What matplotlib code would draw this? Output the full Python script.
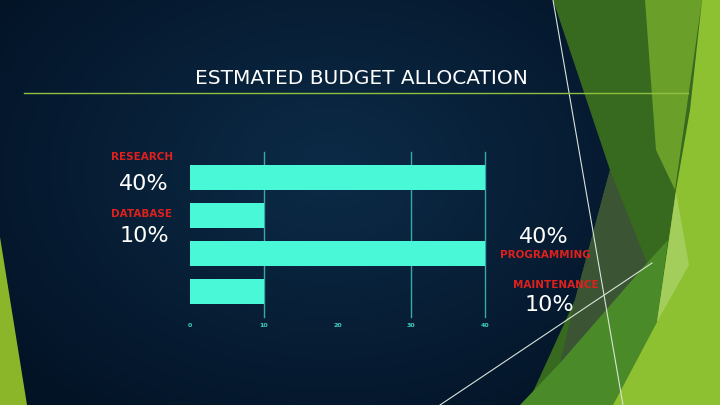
import numpy as np
import matplotlib
matplotlib.use("Agg")
import matplotlib.pyplot as plt
from matplotlib.patches import Polygon

# chart data
categories = ["RESEARCH", "DATABASE", "PROGRAMMING", "MAINTENANCE"]
values = [40, 10, 40, 10]
pct_labels = ["40%", "10%", "40%", "10%"]
x_ticks = [0, 10, 20, 30, 40]
grid_x = [10, 30, 40]
title = "ESTMATED BUDGET ALLOCATION"

W, H = 720, 405
fig = plt.figure(figsize=(7.2, 4.05), dpi=100)

# background in pixel coordinates
bg = fig.add_axes([0, 0, 1, 1])
bg.set_xlim(0, W)
bg.set_ylim(H, 0)
bg.axis("off")

# radial navy gradient
yy, xx = np.mgrid[0:H, 0:W]
d = np.sqrt(((xx - 330) / 420.0) ** 2 + ((yy - 170) / 300.0) ** 2)
d = np.clip(d, 0, 1)
c0 = np.array([0x0c, 0x2b, 0x47]) / 255.0
c1 = np.array([0x03, 0x13, 0x26]) / 255.0
img = c0[None, None, :] * (1 - d[..., None]) + c1[None, None, :] * d[..., None]
bg.imshow(img, extent=(0, W, H, 0), aspect="auto", zorder=0)

# decorative green facets
shapes = [
    ([(553, 0), (720, 0), (720, 405), (527, 405), (575, 300), (610, 170)], "#37691f"),
    ([(610, 170), (647, 263), (560, 363), (575, 300)], "#3a5434"),
    ([(560, 363), (647, 263), (527, 405)], "#3a5434"),
    ([(645, 0), (702, 0), (675, 190), (656, 150)], "#6a9f2a"),
    ([(520, 405), (560, 363), (647, 263), (668, 240), (657, 322), (613, 405)], "#4b8a29"),
    ([(702, 0), (720, 0), (720, 405), (613, 405), (657, 322), (676, 190), (690, 110)], "#8dc131"),
    ([(676, 192), (689, 265), (657, 322)], "#a3ce5c"),
    ([(0, 237), (27, 405), (0, 405)], "#8cb62a"),
]
for pts, col in shapes:
    bg.add_patch(Polygon(pts, closed=True, facecolor=col, edgecolor="none", zorder=1))

bg.plot([553, 623], [0, 405], color="#d8e4d8", lw=0.8, zorder=2)
bg.plot([440, 652], [405, 263], color="#d8e4d8", lw=0.8, zorder=2)
bg.plot([24, 688], [93, 93], color="#8fc040", lw=1.0, zorder=2)

bg.text(361, 78, title, color="white", fontsize=14.5, ha="center", va="center", zorder=3)

# category labels and percentages
red = "#e0201c"
label_pos = [
    (142, 157, 144, 184),
    (142, 214, 144, 236),
    (545, 255, 544, 237),
    (556, 285, 549, 305),
]
for (lx, ly, px, py), cat, pct in zip(label_pos, categories, pct_labels):
    bg.text(lx, ly, cat, color=red, fontsize=7.5, fontweight="bold",
            ha="center", va="center", zorder=3)
    bg.text(px, py, pct, color="white", fontsize=16, ha="center", va="center", zorder=3)

# bar chart
ax = fig.add_axes([190 / W, (H - 317) / H, (485 - 190) / W, (317 - 152) / H])
ax.patch.set_alpha(0)
y = np.arange(len(values))
for gx in grid_x:
    ax.axvline(gx, color="#3aa8a8", lw=1.0, zorder=1, clip_on=False)
ax.barh(y, values, height=0.65, color="#48f8d6", zorder=2)
ax.set_xlim(0, 40)
ax.set_ylim(3.67, -0.67)
ax.set_xticks(x_ticks)
ax.set_xticklabels([str(t) for t in x_ticks], color="#40d0c0", fontsize=4.5, fontweight="bold")
ax.tick_params(axis="x", length=0, pad=4)
ax.set_yticks([])
for s in ax.spines.values():
    s.set_visible(False)

fig.savefig("out.png", dpi=100)
